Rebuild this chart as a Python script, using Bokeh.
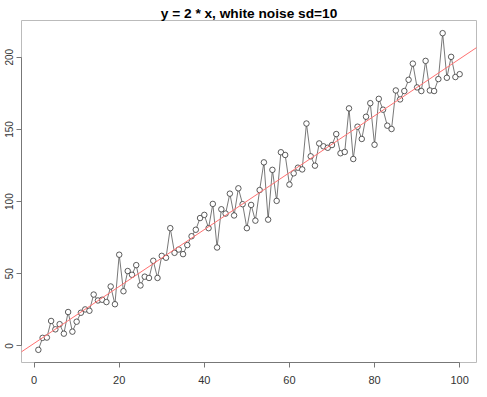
import numpy as np
from bokeh.plotting import figure
from bokeh.models import Range1d, Slope, FixedTicker
from bokeh.embed import file_html
from bokeh.resources import INLINE

title_text = "y = 2 * x, white noise sd=10"
x = list(range(1, 101))
y = [-2.7, 5.6, 5.8, 17.3, 11.5, 15.1, 8.5, 23.5, 9.9, 16.8,
     23.0, 25.3, 24.4, 35.6, 31.5, 32.0, 30.4, 41.2, 28.9, 63.2,
     37.9, 51.9, 49.3, 56.0, 41.9, 48.0, 47.1, 59.0, 47.1, 62.4,
     61.1, 81.6, 64.5, 66.8, 63.6, 69.9, 76.0, 80.5, 88.6, 90.8,
     81.6, 98.4, 68.2, 94.7, 91.7, 105.5, 90.4, 109.2, 98.2, 81.6,
     97.7, 86.8, 108.0, 127.2, 87.5, 122.0, 100.5, 134.2, 132.3, 111.8,
     119.6, 123.5, 122.3, 154.1, 131.4, 124.9, 140.3, 138.3, 137.3, 139.2,
     146.8, 133.5, 134.4, 164.6, 129.5, 151.9, 143.4, 158.8, 168.2, 139.4,
     171.2, 163.7, 152.6, 150.3, 177.0, 170.8, 176.6, 184.4, 195.6, 179.1,
     176.6, 197.5, 177.0, 176.6, 184.9, 216.7, 185.8, 200.3, 186.3, 188.3]
x_ticks = [0, 20, 40, 60, 80, 100]
y_ticks = [0, 50, 100, 150, 200]

slope, intercept = np.polyfit(x, y, 1)

def padded(vals, frac=0.04):
    lo, hi = min(vals), max(vals)
    d = (hi - lo) * frac
    return lo - d, hi + d

xr = padded(x)
yr = padded(y)

p = figure(frame_width=455, frame_height=342, output_backend="svg", toolbar_location=None,
           x_range=Range1d(*xr), y_range=Range1d(*yr),
           min_border_left=21, min_border_right=11, min_border_top=20, min_border_bottom=35,
           background_fill_color="white", border_fill_color="white")

p.title.text = title_text
p.title.align = "center"
p.title.text_font = "Liberation Sans"
p.title.text_font_size = "13.7px"
p.title.text_font_style = "bold"
p.title.text_color = "black"
p.title.standoff = 0

p.xgrid.visible = False
p.ygrid.visible = False
p.outline_line_color = "#bbbbbb"
p.outline_line_width = 1

for ax, ticks, bnds in ((p.xaxis, x_ticks, (x_ticks[0], x_ticks[-1])),
                        (p.yaxis, y_ticks, (y_ticks[0], y_ticks[-1]))):
    ax.ticker = FixedTicker(ticks=ticks)
    ax.bounds = bnds
    ax.axis_line_color = "#777777"
    ax.major_tick_line_color = "#777777"
    ax.major_tick_out = 5
    ax.major_tick_in = 0
    ax.minor_tick_line_color = None
    ax.major_label_text_font = "Liberation Sans"
    ax.major_label_text_color = "#333333"

p.xaxis.major_label_text_font_size = "11px"
p.xaxis.major_label_standoff = 8
p.yaxis.major_label_text_font_size = "10px"
p.yaxis.major_label_orientation = "vertical"
p.yaxis.major_label_standoff = 3

p.line(x, y, line_color="#555555", line_width=0.8)
p.scatter(x, y, marker="circle", size=5.5, fill_color="white",
          line_color="#333333", line_width=0.8)
p.add_layout(Slope(gradient=slope, y_intercept=intercept,
                   line_color="#ff7070", line_width=1))

open("out.html", "w").write(file_html(p, INLINE))
